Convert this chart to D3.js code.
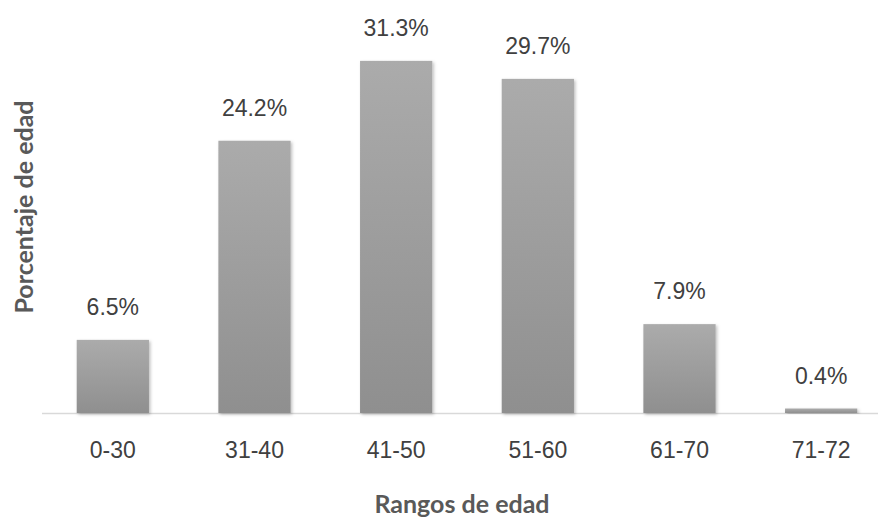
<!DOCTYPE html>
<html>
<head>
<meta charset="utf-8">
<script src="https://cdn.jsdelivr.net/npm/d3@7"></script>
<style>
  body { margin: 0; background: #fff; }
</style>
</head>
<body>
<div class="chart"></div>
<script>
var categories = ['0-30', '31-40', '41-50', '51-60', '61-70', '71-72'];
var values = [6.5, 24.2, 31.3, 29.7, 7.9, 0.4];
var labels = ['6.5%', '24.2%', '31.3%', '29.7%', '7.9%', '0.4%'];

var svgWidth = 878;
var svgHeight = 518;
var labelFont = '"Liberation Sans", Arial, sans-serif';
var titleFont = 'Lato, "Open Sans", sans-serif';

var svg = d3.select('.chart')
  .append('svg')
  .attr('width', svgWidth)
  .attr('height', svgHeight);

var defs = svg.append('defs');
var grad = defs.append('linearGradient')
  .attr('id', 'barGrad')
  .attr('x1', 0).attr('y1', 0).attr('x2', 0).attr('y2', 1);
grad.append('stop').attr('offset', '0%').attr('stop-color', '#ababab');
grad.append('stop').attr('offset', '100%').attr('stop-color', '#8f8f8f');

var shadow = defs.append('filter')
  .attr('id', 'shadow')
  .attr('x', '-20%').attr('y', '-20%').attr('width', '140%').attr('height', '140%');
shadow.append('feDropShadow')
  .attr('dx', 1.5).attr('dy', 1.5).attr('stdDeviation', 1.5)
  .attr('flood-color', '#000').attr('flood-opacity', 0.25);

// scales
var x = d3.scaleBand()
  .domain(categories)
  .range([42, 892])
  .paddingInner(0.49)
  .paddingOuter(0.245);

var y = d3.scaleLinear()
  .domain([0, 35])
  .range([413, 413 - 35 * 11.25]);

// axis line
svg.append('line')
  .attr('x1', 42).attr('x2', svgWidth)
  .attr('y1', y(0) + 0.5).attr('y2', y(0) + 0.5)
  .attr('stroke', '#d9d9d9')
  .attr('stroke-width', 1.5);

// bars
svg.selectAll('rect.bar')
  .data(values)
  .enter()
  .append('rect')
  .attr('class', 'bar')
  .attr('x', (d, i) => x(categories[i]))
  .attr('y', d => y(d))
  .attr('width', x.bandwidth())
  .attr('height', d => y(0) - y(d))
  .attr('fill', 'url(#barGrad)')
  .attr('filter', 'url(#shadow)');

// value labels
svg.selectAll('text.val')
  .data(values)
  .enter()
  .append('text')
  .attr('class', 'val')
  .attr('x', (d, i) => x(categories[i]) + x.bandwidth() / 2)
  .attr('y', d => y(d) - 25)
  .attr('text-anchor', 'middle')
  .attr('font-family', labelFont)
  .attr('font-size', 23)
  .attr('fill', '#404040')
  .text((d, i) => labels[i]);

// bottom axis
var bottomAxis = d3.axisBottom(x).tickSize(0).tickPadding(0);
var axisG = svg.append('g')
  .attr('transform', `translate(0, ${y(0)})`)
  .call(bottomAxis)
  .attr('font-family', labelFont)
  .attr('font-size', 23);
axisG.select('.domain').remove();
axisG.selectAll('.tick text')
  .attr('dy', null)
  .attr('y', 45)
  .attr('fill', '#404040');

// axis titles
svg.append('text')
  .attr('x', 462)
  .attr('y', 513)
  .attr('text-anchor', 'middle')
  .attr('font-family', titleFont)
  .attr('font-weight', 'bold')
  .attr('font-size', 25)
  .attr('fill', '#595959')
  .text('Rangos de edad');

svg.append('text')
  .attr('transform', 'translate(33, 207) rotate(-90)')
  .attr('text-anchor', 'middle')
  .attr('font-family', titleFont)
  .attr('font-weight', 'bold')
  .attr('font-size', 25)
  .attr('fill', '#595959')
  .text('Porcentaje de edad');
</script>
</body>
</html>
